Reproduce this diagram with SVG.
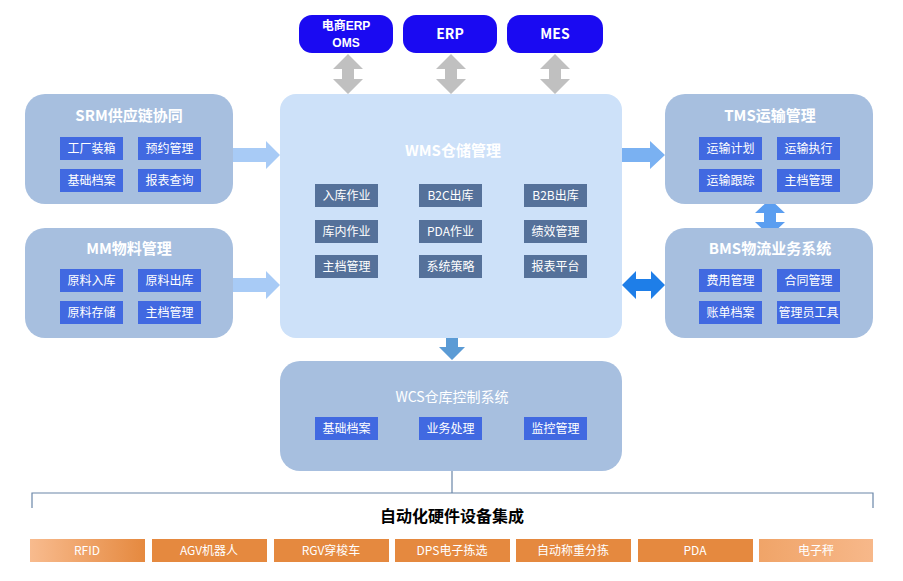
<svg xmlns="http://www.w3.org/2000/svg" width="903" height="581" viewBox="0 0 903 581">
<defs>
<style>
.t{font-family:"Noto Sans CJK SC","Liberation Sans",sans-serif;}
.top{fill:#1a0af2;}
.topt{fill:#fff;font-size:14px;font-weight:bold;text-anchor:middle;}
.grp{fill:#a7bfdf;}
.gt{fill:#fff;font-size:15px;font-weight:bold;text-anchor:middle;}
.chip{fill:#4169e1;}
.chipw{fill:#55719a;}
.ct{fill:#fff;font-size:12px;text-anchor:middle;}
.bar{fill:#e5893f;}
.bt{fill:#fff;font-size:12px;text-anchor:middle;}
.sm{font-family:"Liberation Sans","Noto Sans CJK SC",sans-serif;font-size:12px;}
</style>
<linearGradient id="gl" x1="0" x2="1"><stop offset="0" stop-color="#f8bb8e"/><stop offset="1" stop-color="#e5893f"/></linearGradient>
<linearGradient id="gr" x1="0" x2="1"><stop offset="0" stop-color="#f0a468"/><stop offset="1" stop-color="#f7b88a"/></linearGradient>
</defs>
<rect width="903" height="581" fill="#fff"/>
<g id="top-nodes" class="t">
<g id="n-erp-oms"><rect class="top" x="299" y="15" width="94" height="38" rx="13"/><text class="topt sm" x="346" y="30">电商ERP</text><text class="topt sm" x="346" y="47">OMS</text></g>
<g id="n-erp"><rect class="top" x="403" y="15" width="94" height="38" rx="13"/><text class="topt" x="450" y="39">ERP</text></g>
<g id="n-mes"><rect class="top" x="507" y="15" width="96" height="38" rx="13"/><text class="topt" x="555" y="39">MES</text></g>
</g>
<g id="connectors">
<path fill="#c0c0c0" d="M348,54 l-15,15 h9 v10 h-9 l15,15 l15,-15 h-9 v-10 h9 z"/>
<path fill="#c0c0c0" d="M451,54 l-15,15 h9 v10 h-9 l15,15 l15,-15 h-9 v-10 h9 z"/>
<path fill="#c0c0c0" d="M555,54 l-15,15 h9 v10 h-9 l15,15 l15,-15 h-9 v-10 h9 z"/>
<path fill="#a8cbf6" d="M233,148 h33 v-7 l14,14 l-14,14 v-7 h-33 z"/>
<path fill="#a8cbf6" d="M233,278 h33 v-7 l14,14 l-14,14 v-7 h-33 z"/>
<path fill="#7ab1f2" d="M622,148 h28 v-7 l15,14 l-15,14 v-7 h-28 z"/>
<path fill="#1e7ee8" d="M622,285 l14,-14 v8 h15 v-8 l14,14 l-14,14 v-8 h-15 v8 z"/>
<path fill="#5b9ef0" d="M770,199 l-15,14 h9 v9 h-9 l15,14 l15,-14 h-9 v-9 h9 z"/>
<path fill="#5b9bd5" d="M446,338 h12 v9 h7 l-13,13 l-13,-13 h7 z"/>
<path fill="none" stroke="#6a86a8" stroke-width="1.2" d="M452,471 v22 M32,508 v-15 h841 v15"/>
</g>
<g id="n-srm" class="t"><rect class="grp" x="25" y="94" width="208" height="110" rx="20"/><text class="gt" x="129" y="121">SRM供应链协同</text>
<rect class="chip" x="60" y="137" width="63" height="23"/><text class="ct" x="91.5" y="153">工厂装箱</text>
<rect class="chip" x="138" y="137" width="63" height="23"/><text class="ct" x="169.5" y="153">预约管理</text>
<rect class="chip" x="60" y="169" width="63" height="23"/><text class="ct" x="91.5" y="185">基础档案</text>
<rect class="chip" x="138" y="169" width="63" height="23"/><text class="ct" x="169.5" y="185">报表查询</text></g>
<g id="n-mm" class="t"><rect class="grp" x="25" y="228" width="208" height="110" rx="20"/><text class="gt" x="129" y="254">MM物料管理</text>
<rect class="chip" x="60" y="269" width="63" height="23"/><text class="ct" x="91.5" y="285">原料入库</text>
<rect class="chip" x="138" y="269" width="63" height="23"/><text class="ct" x="169.5" y="285">原料出库</text>
<rect class="chip" x="60" y="301" width="63" height="23"/><text class="ct" x="91.5" y="317">原料存储</text>
<rect class="chip" x="138" y="301" width="63" height="23"/><text class="ct" x="169.5" y="317">主档管理</text></g>
<g id="n-wms" class="t"><rect fill="#cde1f9" x="280" y="94" width="342" height="244" rx="16"/><text class="gt" x="453" y="156">WMS仓储管理</text>
<rect class="chipw" x="315" y="184" width="63" height="23"/><text class="ct" x="346.5" y="200">入库作业</text>
<rect class="chipw" x="419" y="184" width="63" height="23"/><text class="ct" x="450.5" y="200">B2C出库</text>
<rect class="chipw" x="524" y="184" width="63" height="23"/><text class="ct" x="555.5" y="200">B2B出库</text>
<rect class="chipw" x="315" y="220" width="63" height="23"/><text class="ct" x="346.5" y="236">库内作业</text>
<rect class="chipw" x="419" y="220" width="63" height="23"/><text class="ct" x="450.5" y="236">PDA作业</text>
<rect class="chipw" x="524" y="220" width="63" height="23"/><text class="ct" x="555.5" y="236">绩效管理</text>
<rect class="chipw" x="315" y="255" width="63" height="23"/><text class="ct" x="346.5" y="271">主档管理</text>
<rect class="chipw" x="419" y="255" width="63" height="23"/><text class="ct" x="450.5" y="271">系统策略</text>
<rect class="chipw" x="524" y="255" width="63" height="23"/><text class="ct" x="555.5" y="271">报表平台</text></g>
<g id="n-tms" class="t"><rect class="grp" x="665" y="94" width="208" height="110" rx="20"/><text class="gt" x="770" y="121">TMS运输管理</text>
<rect class="chip" x="699" y="137" width="63" height="23"/><text class="ct" x="730.5" y="153">运输计划</text>
<rect class="chip" x="777" y="137" width="63" height="23"/><text class="ct" x="808.5" y="153">运输执行</text>
<rect class="chip" x="699" y="169" width="63" height="23"/><text class="ct" x="730.5" y="185">运输跟踪</text>
<rect class="chip" x="777" y="169" width="63" height="23"/><text class="ct" x="808.5" y="185">主档管理</text></g>
<g id="n-bms" class="t"><rect class="grp" x="665" y="228" width="208" height="110" rx="20"/><text class="gt" x="770" y="254">BMS物流业务系统</text>
<rect class="chip" x="699" y="269" width="63" height="23"/><text class="ct" x="730.5" y="285">费用管理</text>
<rect class="chip" x="777" y="269" width="63" height="23"/><text class="ct" x="808.5" y="285">合同管理</text>
<rect class="chip" x="699" y="301" width="63" height="23"/><text class="ct" x="730.5" y="317">账单档案</text>
<rect class="chip" x="777" y="301" width="63" height="23"/><text class="ct" x="808.5" y="317">管理员工具</text></g>
<g id="n-wcs" class="t"><rect class="grp" x="280" y="361" width="342" height="110" rx="20"/><text class="gt" x="452" y="402" style="font-weight:normal;font-size:14px">WCS仓库控制系统</text>
<rect class="chip" x="315" y="417" width="63" height="23"/><text class="ct" x="346.5" y="433">基础档案</text>
<rect class="chip" x="419" y="417" width="63" height="23"/><text class="ct" x="450.5" y="433">业务处理</text>
<rect class="chip" x="524" y="417" width="63" height="23"/><text class="ct" x="555.5" y="433">监控管理</text></g>
<g id="n-hw" class="t"><text x="452" y="522" style="font-size:16px;font-weight:bold;text-anchor:middle;fill:#000">自动化硬件设备集成</text>
<rect fill="url(#gl)" x="30" y="539" width="115" height="23"/><text class="bt" x="87" y="555">RFID</text>
<rect class="bar" x="152" y="539" width="115" height="23"/><text class="bt" x="209" y="555">AGV机器人</text>
<rect class="bar" x="274" y="539" width="115" height="23"/><text class="bt" x="331" y="555">RGV穿梭车</text>
<rect class="bar" x="395" y="539" width="115" height="23"/><text class="bt" x="452" y="555">DPS电子拣选</text>
<rect class="bar" x="516" y="539" width="115" height="23"/><text class="bt" x="573" y="555">自动称重分拣</text>
<rect class="bar" x="638" y="539" width="115" height="23"/><text class="bt" x="695" y="555">PDA</text>
<rect fill="url(#gr)" x="759" y="539" width="114" height="23"/><text class="bt" x="816" y="555">电子秤</text></g>
</svg>
